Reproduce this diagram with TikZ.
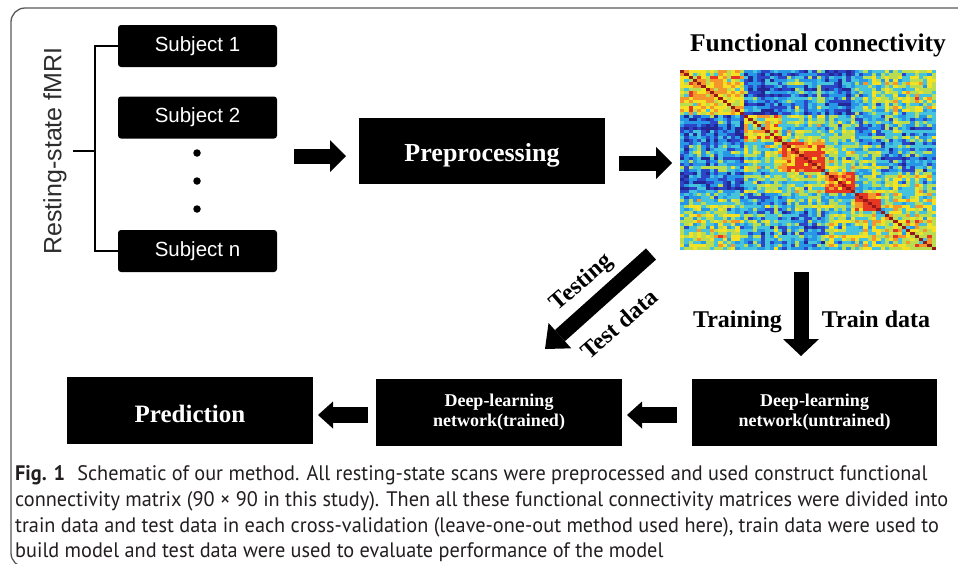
\documentclass[tikz,border=0pt]{standalone}
\usepackage{fontspec}
\usepackage{graphicx}
\usetikzlibrary{arrows.meta,calc}
\setmainfont{Liberation Serif}
\newfontfamily\arialf{Liberation Sans}
\newfontfamily\capf{PT Sans}
\definecolor{framec}{RGB}{90,90,90}
\definecolor{restc}{RGB}{45,45,45}
\definecolor{capc}{RGB}{35,31,32}
\definecolor{mc0}{RGB}{35,40,150}
\definecolor{mc1}{RGB}{45,70,200}
\definecolor{mc2}{RGB}{40,150,230}
\definecolor{mc3}{RGB}{70,195,220}
\definecolor{mc4}{RGB}{185,220,80}
\definecolor{mc5}{RGB}{245,225,35}
\definecolor{mc6}{RGB}{245,150,45}
\definecolor{mc7}{RGB}{230,55,35}
\definecolor{mc8}{RGB}{150,25,25}
\def\Bvals{0.70,0.25,0.35,0.27,0.48,0.55,
0.25,0.68,0.52,0.50,0.35,0.40,
0.35,0.52,0.88,0.52,0.48,0.32,
0.27,0.50,0.52,0.90,0.48,0.52,
0.48,0.35,0.48,0.48,0.90,0.55,
0.55,0.40,0.32,0.52,0.55,0.60}
\newsavebox\capbox
\newlength\capw
\begin{document}
\sbox\capbox{\capf\fontsize{21}{25}\selectfont connectivity matrix (90 × 90 in this study). Then all these functional connectivity matrices were divided into}%
\setlength\capw{\wd\capbox}%
\pgfmathsetmacro\capsx{933/\capw}%
\begin{tikzpicture}[x=1pt,y=-1pt,
  subj/.style={fill=black, rounded corners=3pt, minimum width=159pt, minimum height=42pt,
    text=white, inner sep=0pt, font=\arialf\fontsize{20.5}{24}\selectfont},
  blk/.style={fill=black, text=white, inner sep=0pt, align=center},
  dotn/.style={circle, fill=black, minimum size=7.5pt, inner sep=0pt},
  lab/.style={inner sep=0pt, font=\bfseries\fontsize{24}{28}\selectfont},
  barrow/.style={line width=15pt, -{Triangle[length=16pt,width=32pt,line width=0pt]}},
  brk/.style={line width=2.5pt},
  capline/.style={anchor=base west, inner sep=0pt, text=capc}
]
\useasboundingbox (0,0) rectangle (958,563);
\clip (0,0) rectangle (958,563);
\fill[white] (0,0) rectangle (958,563);
% frame
\draw[framec, line width=1.3pt, rounded corners=14pt] (975,8) -- (11,8) -- (11,567) -- (975,567);

% subjects
\node[subj] (s1) at (197.5,46) {Subject 1};
\node[subj] (s2) at (197.5,117.5) {Subject 2};
\node[subj] (sn) at (197.5,251) {Subject n};
\node[dotn] (d1) at (197,153) {};
\node[dotn] (d2) at (197,181) {};
\node[dotn] (d3) at (197,209) {};
\node[rotate=90, inner sep=0pt, text=restc, font=\arialf\fontsize{25}{30}\selectfont] (rest) at (55,151) {Resting-state fMRI};
\coordinate (stub) at (73,151);
\coordinate (br) at (95,151);
\draw[brk] (s1.west) -| (br) |- (sn.west);
\draw[brk] (stub) -- (br);

% preprocessing
\node[blk, minimum width=246pt, minimum height=66pt, text height=21.4pt, text depth=0pt,
  font=\bfseries\fontsize{26}{30}\selectfont] (pre) at (482,151) {Preprocessing};

% functional connectivity
\node[inner sep=0pt, font=\bfseries\fontsize{25.5}{30}\selectfont] (fct) at (818,45) {Functional connectivity};
\node[minimum width=256pt, minimum height=180pt, inner sep=0pt] (fc) at (808,160) {};
\begin{scope}[shift={(680,70)}]
\pgfmathsetseed{11}
\foreach \i in {0,...,59}{
  \pgfmathtruncatemacro\gi{(\i>14)+(\i>23)+(\i>33)+(\i>40)+(\i>46)}
  \pgfmathsetmacro\ri{0.2*(mod(\i*37+11,23)/22-0.5)}
  \foreach \j in {\i,...,59}{
    \pgfmathtruncatemacro\gj{(\j>14)+(\j>23)+(\j>33)+(\j>40)+(\j>46)}
    \pgfmathsetmacro\rj{0.2*(mod(\j*37+11,23)/22-0.5)}
    \pgfmathsetmacro\bv{{\Bvals}[\gi*6+\gj]}
    \pgfmathtruncatemacro\k{max(0,min(7,floor(8*(\bv+\ri+\rj+0.36*(rnd-0.5)))))}
    \ifnum\i=\j\def\k{8}\fi
    \fill[mc\k] (\j*4.26667,\i*3) rectangle ++(4.45,3.15);
    \fill[mc\k] (\i*4.26667,\j*3) rectangle ++(4.45,3.15);
  }
}
\end{scope}

% arrows top
\coordinate (a1s) at (294,156);
\coordinate (a1e) at (346,156);
\draw[barrow] (a1s) -- (a1e);
\coordinate (a2s) at (619,163);
\coordinate (a2e) at (672,163);
\draw[barrow] (a2s) -- (a2e);
\coordinate (a3s) at (801,272);
\coordinate (a3e) at (801,356);
\draw[line width=15pt, -{Triangle[length=17pt,width=36pt,line width=0pt]}] (a3s) -- (a3e);
\coordinate (a4s) at (651,254);
\coordinate (a4e) at (545,349);
\draw[line width=15pt, -{Triangle[length=20pt,width=34pt,line width=0pt]}] (a4s) -- (a4e);

% labels
\node[lab, anchor=base] (ltr) at (737.5,327.5) {Training};
\node[lab, anchor=base] (ltd) at (876,327.5) {Train data};
\node[lab, rotate=41] (lte) at (582,283) {Testing};
\node[lab, rotate=41] (ltsd) at (619,324) {Test data};

% bottom boxes
\node[blk, minimum width=246pt, minimum height=67pt, text height=24.4pt, text depth=0pt,
  font=\bfseries\fontsize{25}{30}\selectfont] (pred) at (190,410.5) {Prediction};
\node[blk, minimum width=246pt, minimum height=67pt,
  font=\bfseries\fontsize{18}{20}\selectfont] (trn) at (499,412) {Deep-learning\\network(trained)};
\node[blk, minimum width=245pt, minimum height=67pt,
  font=\bfseries\fontsize{18}{20}\selectfont] (untr) at (814.5,412) {Deep-learning\\network(untrained)};
\coordinate (b1s) at (368,415);
\coordinate (b1e) at (318,415);
\draw[line width=16pt, -{Triangle[length=15pt,width=27pt,line width=0pt]}] (b1s) -- (b1e);
\coordinate (b2s) at (677,415);
\coordinate (b2e) at (627,415);
\draw[line width=16pt, -{Triangle[length=15pt,width=27pt,line width=0pt]}] (b2s) -- (b2e);

% caption
\node[capline] (c1) at (15,480) {\scalebox{\capsx}[1]{\capf\fontsize{21}{25}\selectfont\textbf{Fig. 1}\hspace{0.6em}Schematic of our method. All resting-state scans were preprocessed and used construct functional}};
\node[capline] (c2) at (15,506) {\scalebox{\capsx}[1]{\capf\fontsize{21}{25}\selectfont connectivity matrix (90 × 90 in this study). Then all these functional connectivity matrices were divided into}};
\node[capline] (c3) at (15,532) {\scalebox{\capsx}[1]{\capf\fontsize{21}{25}\selectfont train data and test data in each cross-validation (leave-one-out method used here), train data were used to}};
\node[capline] (c4) at (15,557) {\scalebox{\capsx}[1]{\capf\fontsize{21}{25}\selectfont build model and test data were used to evaluate performance of the model}};
\end{tikzpicture}
\end{document}
